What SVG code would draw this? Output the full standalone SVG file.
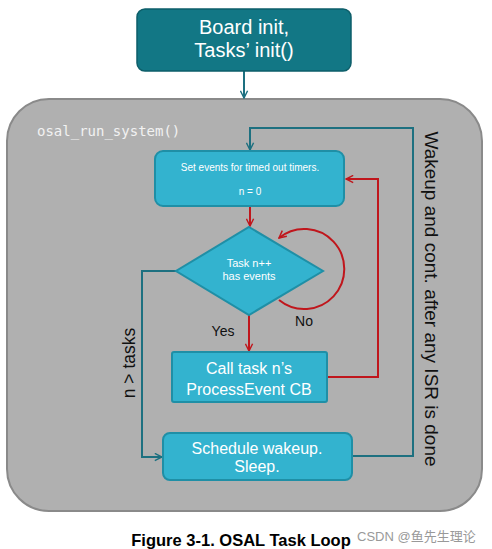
<svg xmlns="http://www.w3.org/2000/svg" width="492" height="549" viewBox="0 0 492 549">
<defs>
<style>
.lbl{font-family:"Liberation Sans",Arial,sans-serif;fill:#fff;text-anchor:middle}
.dark{font-family:"Liberation Sans",Arial,sans-serif;fill:#111}
.box{fill:#33b3cf;stroke:#1f8fa6;stroke-width:2}
.teal{fill:none;stroke:#1d7080;stroke-width:2}
.red{fill:none;stroke:#c0161c;stroke-width:2}
</style>
<marker id="at" viewBox="0 0 10 10" refX="9" refY="5" markerWidth="9" markerHeight="9" orient="auto" markerUnits="userSpaceOnUse"><path d="M1,1 L9,5 L1,9" fill="none" stroke="#1d7080" stroke-width="1.6"/></marker>
<marker id="ar" viewBox="0 0 10 10" refX="9" refY="5" markerWidth="9" markerHeight="9" orient="auto" markerUnits="userSpaceOnUse"><path d="M1,1 L9,5 L1,9" fill="none" stroke="#c0161c" stroke-width="1.6"/></marker>
</defs>
<rect width="492" height="549" fill="#fff"/>
<g id="outer">
<rect x="7" y="99" width="475" height="412" rx="42" fill="#b0b0b0" stroke="#8a8a8a" stroke-width="2"/>
<text x="37" y="136" font-family="'DejaVu Sans Mono','Liberation Mono',monospace" font-size="14" fill="#f2f2f2">osal_run_system()</text>
</g>
<g id="connectors">
<line x1="244" y1="71" x2="244" y2="98" class="teal" marker-end="url(#at)"/>
<polyline points="352,456 413,456 413,128 250,128 250,150" class="teal" marker-end="url(#at)"/>
<line x1="250" y1="206" x2="250" y2="226" class="red" marker-end="url(#ar)"/>
<line x1="249" y1="315" x2="249" y2="351" class="red" marker-end="url(#ar)"/>
<polyline points="327,377 378,377 378,179 346,179" class="red" marker-end="url(#ar)"/>
<path d="M279,300 A40,40 0 1 0 279,238" class="red" marker-end="url(#ar)"/>
<polyline points="176,271 142,271 142,457 162,457" class="teal" marker-end="url(#at)"/>
</g>
<g id="init">
<rect x="137" y="9" width="214" height="62" rx="8" fill="#127785" stroke="#0d5e69" stroke-width="1.5"/>
<text class="lbl" x="244" y="34" font-size="20">Board init,</text>
<text class="lbl" x="244" y="57" font-size="20">Tasks’ init()</text>
</g>
<g id="setEvents">
<rect x="155" y="151" width="189" height="55" rx="8" class="box"/>
<text class="lbl" x="250" y="171" font-size="10">Set events for timed out timers.</text>
<text class="lbl" x="250" y="195" font-size="10">n = 0</text>
</g>
<g id="decision">
<polygon points="249,227 323,271 249,315 176,271" class="box"/>
<text class="lbl" x="249" y="267" font-size="11">Task n++</text>
<text class="lbl" x="249" y="280" font-size="11">has events</text>
</g>
<text class="dark" x="223" y="336" font-size="14" text-anchor="middle">Yes</text>
<text class="dark" x="304" y="326" font-size="14" text-anchor="middle">No</text>
<g id="callTask">
<rect x="172" y="352" width="155" height="50" rx="2" class="box"/>
<text class="lbl" x="249" y="374" font-size="16">Call task n’s</text>
<text class="lbl" x="249" y="395" font-size="16">ProcessEvent CB</text>
</g>
<g id="schedule">
<rect x="163" y="433" width="189" height="47" rx="7" class="box"/>
<text class="lbl" x="257" y="454" font-size="16">Schedule wakeup.</text>
<text class="lbl" x="257" y="472" font-size="16">Sleep.</text>
</g>
<text class="dark" font-size="17.5" text-anchor="middle" transform="translate(135,363) rotate(-90)">n &gt; tasks</text>
<text class="dark" font-size="19" text-anchor="middle" transform="translate(425,299) rotate(90)">Wakeup and cont. after any ISR is done</text>
<text x="241" y="546" font-family="'Liberation Sans',Arial,sans-serif" font-size="16.5" font-weight="bold" fill="#000" text-anchor="middle">Figure 3-1. OSAL Task Loop</text>
<text x="357" y="541" font-family="'Liberation Sans','Noto Sans CJK SC',sans-serif" font-size="13" fill="#999">CSDN @鱼先生理论</text>
</svg>
